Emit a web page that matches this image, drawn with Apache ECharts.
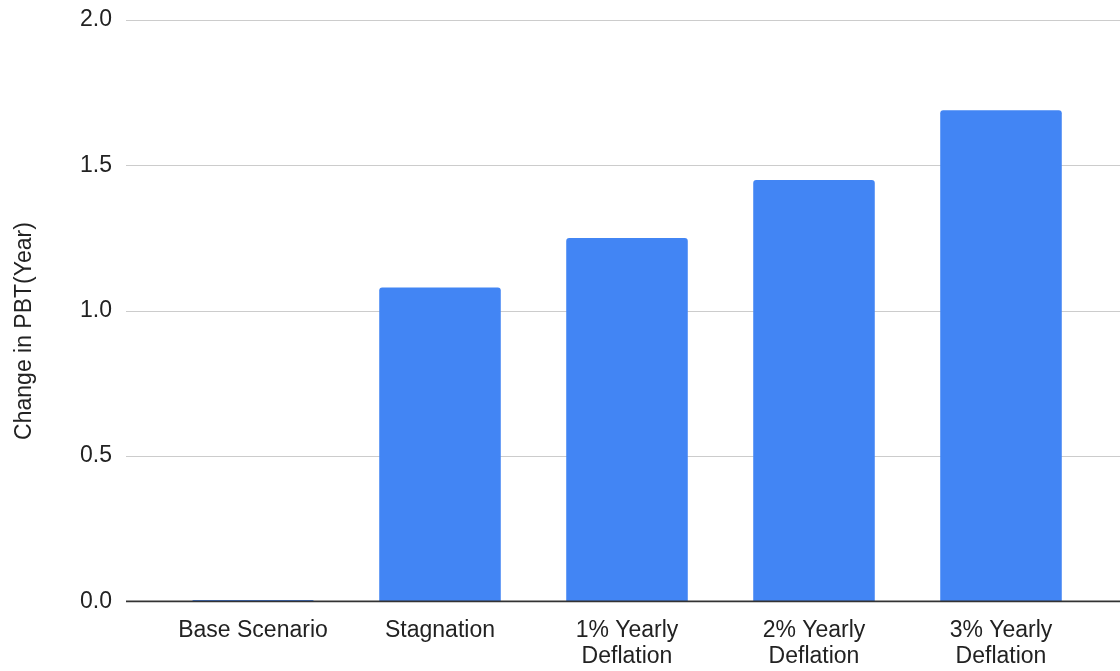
<!DOCTYPE html>
<html>
<head>
<meta charset="utf-8">
<script src="https://cdn.jsdelivr.net/npm/echarts@6/dist/echarts.min.js"></script>
<style>
  html, body { margin: 0; padding: 0; background: #ffffff; }
  #chart { width: 1120px; height: 671px; }
</style>
</head>
<body>
<div id="chart"></div>
<script>
// Scenario names shown under each bar
const categories = ['Base Scenario', 'Stagnation', '1% Yearly\nDeflation', '2% Yearly\nDeflation', '3% Yearly\nDeflation'];
// Change in PBT (years) for each scenario
const pbtChange = [0.005, 1.08, 1.25, 1.45, 1.69];
// Value axis range and tick step
const yMin = 0;
const yMax = 2;
const yStep = 0.5;
const yTitle = 'Change in PBT(Year)';

const FONT = '"Liberation Sans", Arial, sans-serif';
const TEXT = '#222222';

const chart = echarts.init(document.getElementById('chart'), null, { renderer: 'canvas' });

chart.setOption({
  animation: false,
  backgroundColor: '#ffffff',
  textStyle: { fontFamily: FONT },
  grid: [
    // frame grid: gridlines, tick labels and baseline span the full width
    { left: 126, right: 0, top: 20, bottom: 69.5, containLabel: false },
    // bar grid: categories are laid out inside this narrower band
    { left: 159.5, right: 25.5, top: 20, bottom: 69.5, containLabel: false }
  ],
  xAxis: [
    {
      gridIndex: 0,
      type: 'value',
      min: 0,
      max: 1,
      show: true,
      axisLine: { show: false },
      axisTick: { show: false },
      axisLabel: { show: false },
      splitLine: { show: false }
    },
    {
      gridIndex: 1,
      type: 'category',
      data: categories,
      axisLine: { show: false },
      axisTick: { show: false },
      axisLabel: {
        color: TEXT,
        fontSize: 23,
        fontFamily: FONT,
        lineHeight: 26,
        margin: 16,
        interval: 0
      },
      splitLine: { show: false }
    }
  ],
  yAxis: [
    {
      gridIndex: 0,
      type: 'value',
      min: yMin,
      max: yMax,
      interval: yStep,
      axisLine: { show: false },
      axisTick: { show: false },
      axisLabel: {
        color: TEXT,
        fontSize: 23,
        fontFamily: FONT,
        margin: 14,
        padding: [4, 0, 0, 0],
        formatter: v => v.toFixed(1)
      },
      splitLine: { show: true, lineStyle: { color: '#cccccc', width: 1 } }
    },
    {
      gridIndex: 1,
      type: 'value',
      min: yMin,
      max: yMax,
      interval: yStep,
      show: false,
      splitLine: { show: false }
    }
  ],
  series: [
    {
      // baseline drawn across the whole frame
      type: 'line',
      xAxisIndex: 0,
      yAxisIndex: 0,
      data: [[0, yMin], [1, yMin]],
      symbol: 'none',
      silent: true,
      lineStyle: { color: '#333333', width: 2 },
      z: 5
    },
    {
      type: 'bar',
      xAxisIndex: 1,
      yAxisIndex: 1,
      data: pbtChange,
      barWidth: '65%',
      itemStyle: { color: '#4285F4', borderRadius: [3, 3, 0, 0] },
      z: 2
    }
  ],
  graphic: [
    {
      type: 'text',
      x: 25,
      y: 331,
      rotation: Math.PI / 2,
      style: {
        text: yTitle,
        fill: TEXT,
        font: '23px ' + FONT,
        textAlign: 'center',
        textVerticalAlign: 'middle'
      }
    }
  ]
});
</script>
</body>
</html>
